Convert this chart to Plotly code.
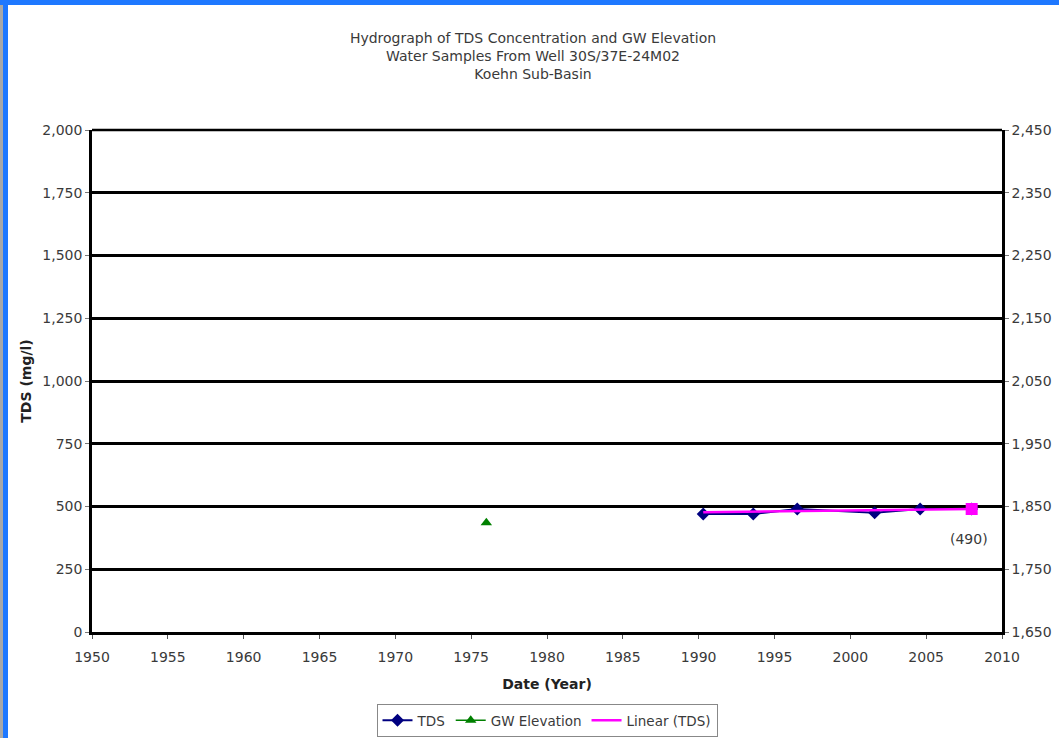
import plotly.graph_objects as go

# Data
tds_years = [1990.3, 1993.6, 1996.5, 2001.6, 2004.6, 2008.0]
tds_values = [470, 470, 490, 475, 490, 490]
gw_years = [1976.0]
gw_values = [1824]
trend_years = [1990.3, 2008.0]
trend_values = [477, 490]
latest_year = [2008.0]
latest_value = [490]
latest_label = "(490)"

x_ticks = list(range(1950, 2011, 5))
left_ticks = [0, 250, 500, 750, 1000, 1250, 1500, 1750, 2000]
right_ticks = [1650, 1750, 1850, 1950, 2050, 2150, 2250, 2350, 2450]

W, H = 1059, 738
ml, mr, mt, mb = 92, 57, 130, 106
pw = W - ml - mr
ph = H - mt - mb

font_family = "DejaVu Sans, Liberation Sans, Arial, sans-serif"
txt = "#3a3a3a"

fig = go.Figure()
fig.add_trace(go.Scatter(x=tds_years, y=tds_values, mode="lines+markers", name="TDS",
                         line=dict(color="#000080", width=2),
                         marker=dict(symbol="diamond", size=10, color="#000080")))
fig.add_trace(go.Scatter(x=gw_years, y=gw_values, mode="lines+markers", name="GW Elevation",
                         yaxis="y2", line=dict(color="#008000", width=1.5),
                         marker=dict(symbol="triangle-up", size=10, color="#008000")))
fig.add_trace(go.Scatter(x=trend_years, y=trend_values, mode="lines", name="Linear (TDS)",
                         line=dict(color="#FF00FF", width=2.5)))
fig.add_trace(go.Scatter(x=latest_year, y=latest_value, mode="markers", showlegend=False,
                         marker=dict(symbol="square", size=12, color="#FF00FF"),
                         cliponaxis=False))


def px2paper_x(px):
    return (px - ml) / pw


def px2paper_y(py):
    return (H - mb - py) / ph


shapes = [
    dict(type="rect", xref="paper", yref="paper", x0=px2paper_x(0), x1=px2paper_x(3),
         y0=px2paper_y(H), y1=px2paper_y(0), fillcolor="#A8A8A8", line=dict(width=0), layer="above"),
    dict(type="rect", xref="paper", yref="paper", x0=px2paper_x(3), x1=px2paper_x(8),
         y0=px2paper_y(H), y1=px2paper_y(0), fillcolor="#1E78FF", line=dict(width=0), layer="above"),
    dict(type="rect", xref="paper", yref="paper", x0=px2paper_x(0), x1=px2paper_x(W),
         y0=px2paper_y(5), y1=px2paper_y(0), fillcolor="#1E78FF", line=dict(width=0), layer="above"),
    dict(type="line", xref="paper", yref="paper", x0=0, x1=1, y0=1, y1=1,
         line=dict(color="black", width=2.5)),
]

annotations = [
    dict(x=latest_year[0], y=latest_value[0], xref="x", yref="y", text=latest_label,
         showarrow=False, xshift=-3, yshift=-30, font=dict(size=14, color=txt, family=font_family)),
]

fig.update_layout(
    width=W, height=H,
    margin=dict(l=ml, r=mr, t=mt, b=mb, pad=0, autoexpand=False),
    paper_bgcolor="white", plot_bgcolor="white",
    font=dict(family=font_family, size=14, color=txt),
    title=dict(text="Hydrograph of TDS Concentration and GW Elevation<br>Water Samples From Well 30S/37E-24M02<br>Koehn Sub-Basin",
               x=533 / W, xanchor="center", y=1 - 43 / H, yanchor="top",
               font=dict(size=14, color=txt, family=font_family)),
    xaxis=dict(range=[1950, 2010], tickvals=x_ticks, ticks="outside", ticklen=4,
               tickcolor="#555555", showgrid=False, zeroline=False,
               showline=True, linecolor="black", linewidth=2.5, mirror=False,
               ticklabelstandoff=6, automargin=False,
               title=dict(text="<b>Date (Year)</b>", font=dict(size=14, color="#222222"), standoff=16),
               tickfont=dict(size=14, color=txt)),
    yaxis=dict(range=[0, 2000], tickvals=left_ticks, tickformat=",d", ticks="outside", ticklen=4,
               tickcolor="#777777", showgrid=True, gridcolor="black", gridwidth=2.5,
               zeroline=False, showline=True, linecolor="black", linewidth=2.5, automargin=False,
               title=dict(text="<b>TDS (mg/l)</b>", font=dict(size=14, color="#222222"), standoff=8),
               tickfont=dict(size=14, color=txt)),
    yaxis2=dict(range=[1650, 2450], tickvals=right_ticks, tickformat=",d", overlaying="y", side="right",
                ticks="outside", ticklen=4, tickcolor="#777777", showgrid=False, zeroline=False,
                showline=True, linecolor="black", linewidth=2.5, automargin=False,
                tickfont=dict(size=14, color=txt)),
    legend=dict(orientation="h", x=px2paper_x(547), xanchor="center", y=px2paper_y(704), yanchor="top",
                bordercolor="#888888", borderwidth=1, bgcolor="white",
                font=dict(size=13.5, color=txt), itemwidth=30, tracegroupgap=0),
    shapes=shapes,
    annotations=annotations,
    showlegend=True,
)

fig.write_html("out.html", config={"displayModeBar": False},
               post_script="document.body.style.margin='0';document.body.style.overflow='hidden';")
